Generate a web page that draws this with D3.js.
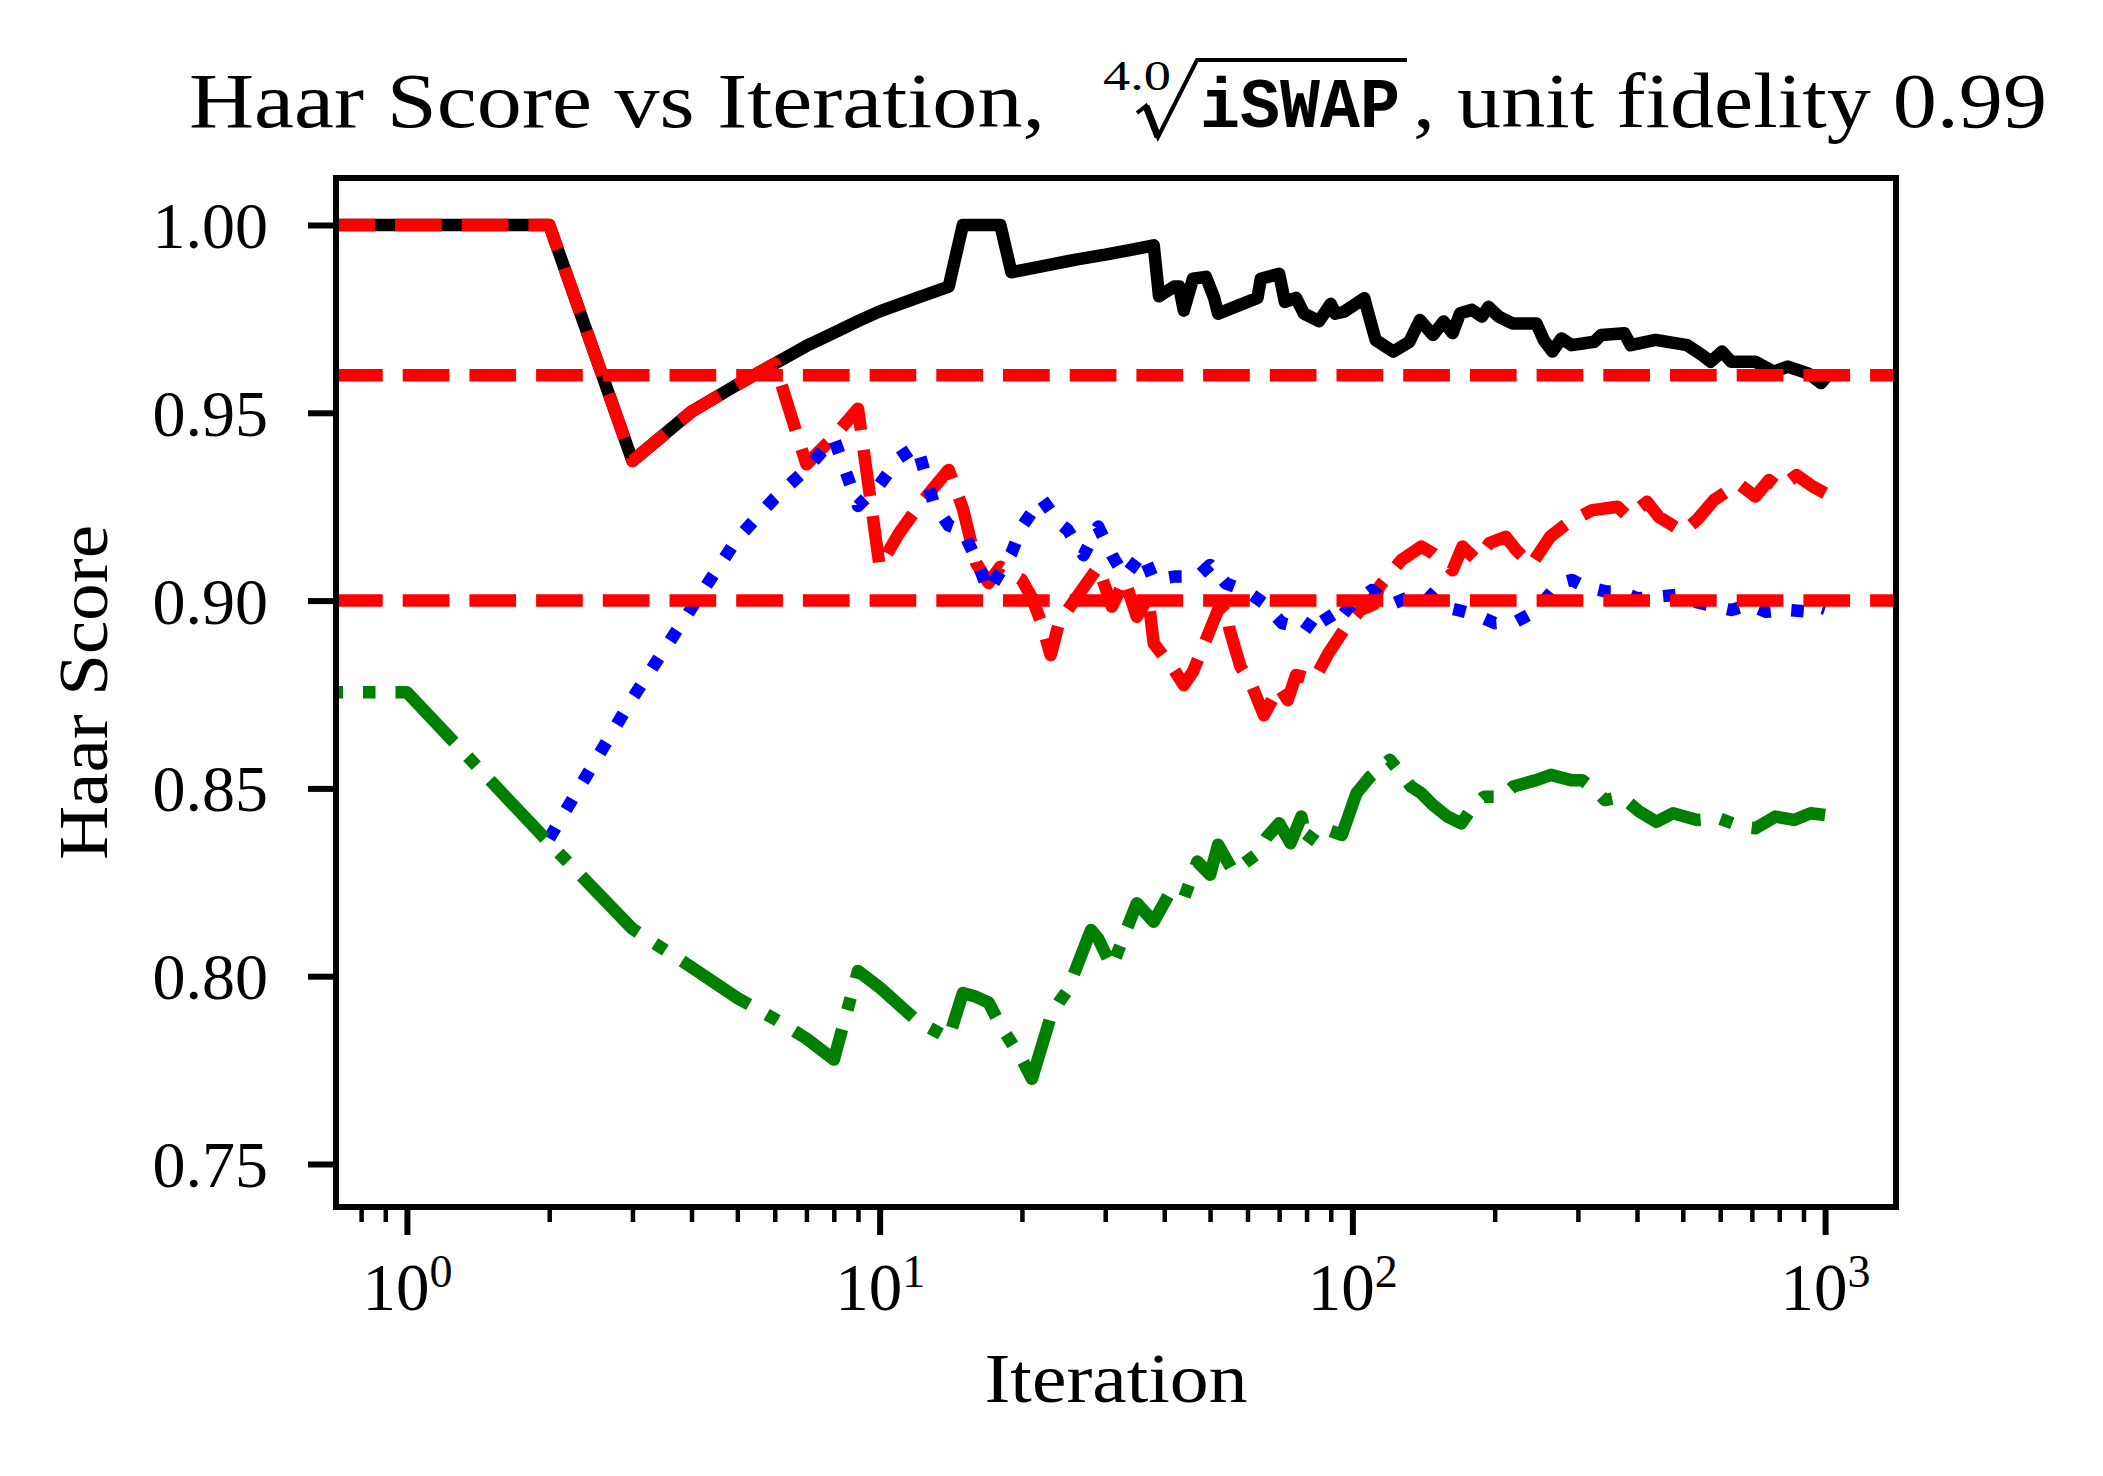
<!DOCTYPE html>
<html>
<head>
<meta charset="utf-8">
<script src="https://cdn.jsdelivr.net/npm/d3@7"></script>
<style>
  html, body { margin: 0; padding: 0; background: #fff; }
  svg { display: block; }
  text { fill: #000; }
</style>
</head>
<body>
<svg id="chart" width="2103" height="1476"></svg>
<script>
// values: [iteration, haar score]
const solidScores = [[0,1.0],[1,1.0],[2,1.0],[3,0.9372],[4,0.9503],[5,0.9575],[6,0.9631],[7,0.9678],[8,0.9713],[9,0.9744],[10,0.977],[12,0.9806],[14,0.9836],[15,1.0],[16,1.0],[17,1.0],[18,1.0],[19,0.9874],[22,0.9890],[26,0.9908],[30,0.9921],[34,0.9934],[38,0.9946],[39,0.981],[42,0.9836],[43,0.9836],[44,0.9772],[46,0.9857],[49,0.9862],[51,0.9806],[52,0.9764],[63,0.9806],[64,0.9857],[70,0.987],[72,0.9795],[76,0.9806],[79,0.9764],[85,0.9744],[90,0.979],[92,0.9764],[96,0.9769],[106,0.9805],[108,0.9766],[112,0.9694],[122,0.9663],[132,0.9689],[139,0.9747],[148,0.9707],[156,0.9743],[163,0.9712],[169,0.9765],[179,0.9774],[188,0.9756],[194,0.9782],[204,0.9756],[218,0.9738],[245,0.9738],[254,0.9694],[265,0.9663],[277,0.9698],[291,0.968],[325,0.9689],[336,0.9707],[376,0.9712],[388,0.968],[438,0.9694],[511,0.968],[549,0.9654],[573,0.9636],[605,0.9663],[633,0.9636],[712,0.9636],[779,0.9609],[834,0.9623],[920,0.9605],[980,0.9579],[1000,0.9592]];

const dashedScores = [[0,1.0],[1,1.0],[2,1.0],[3,0.9372],[4,0.9503],[5,0.9575],[6,0.9631],[7,0.9363],[8,0.9437],[9,0.9511],[10,0.909],[11,0.918],[12,0.9246],[13,0.930],[14,0.9348],[15,0.9245],[16,0.910],[17,0.9047],[18,0.909],[20,0.9055],[21,0.9007],[22,0.894],[23,0.8855],[24,0.8944],[29,0.909],[31,0.8984],[33,0.9055],[35,0.8957],[37,0.901],[38,0.8886],[42,0.8815],[44,0.8775],[46,0.8811],[52,0.8975],[54,0.8993],[55,0.8922],[58,0.8824],[61,0.878],[65,0.8695],[70,0.8771],[73,0.8735],[76,0.8802],[83,0.8789],[89,0.886],[97,0.8931],[104,0.8975],[111,0.899],[114,0.9037],[127,0.9108],[140,0.9144],[148,0.9126],[163,0.9081],[171,0.9144],[183,0.9108],[195,0.9153],[211,0.917],[222,0.9135],[239,0.9095],[262,0.917],[285,0.9206],[322,0.9241],[364,0.925],[383,0.9223],[420,0.9263],[445,0.9223],[501,0.9183],[536,0.9215],[582,0.9268],[612,0.9286],[655,0.9312],[712,0.9277],[761,0.9321],[800,0.9299],[870,0.9334],[944,0.9303],[1000,0.9286]];

const dottedScores = [[2,0.8367],[3,0.874],[4,0.898],[5,0.9165],[6,0.9273],[7,0.935],[8,0.9432],[9,0.9252],[10,0.9309],[11,0.938],[12,0.9412],[13,0.926],[14,0.920],[15,0.9186],[16,0.911],[17,0.9025],[19,0.9126],[20,0.9197],[22,0.9272],[24,0.9206],[25,0.9188],[27,0.9121],[29,0.9197],[31,0.9121],[33,0.9064],[36,0.9126],[38,0.9055],[42,0.9064],[47,0.9064],[50,0.9095],[54,0.9046],[60,0.9024],[65,0.8993],[71,0.894],[76,0.8931],[79,0.8917],[86,0.898],[91,0.8931],[98,0.898],[110,0.9028],[120,0.8988],[132,0.901],[143,0.9024],[155,0.8984],[167,0.8975],[183,0.8962],[200,0.894],[222,0.8944],[239,0.8966],[252,0.8993],[273,0.9046],[291,0.9055],[311,0.9037],[345,0.9024],[368,0.9024],[401,0.9006],[437,0.901],[485,0.9015],[513,0.9002],[546,0.8993],[633,0.8975],[689,0.8988],[751,0.897],[834,0.8975],[930,0.897],[968,0.8984],[1000,0.8978]];

const dashDotScores = [[0,0.8756],[1,0.8756],[2,0.8355],[3,0.8126],[4,0.8024],[5,0.7942],[6,0.7886],[7,0.7834],[8,0.7778],[9,0.8014],[10,0.797],[12,0.7881],[14,0.7835],[15,0.7955],[16,0.7945],[17,0.793],[18,0.787],[20,0.7778],[21,0.7727],[23,0.7892],[24,0.7932],[25,0.7963],[28,0.8123],[29,0.81],[31,0.8025],[35,0.8194],[38,0.8145],[41,0.822],[44,0.8207],[47,0.8305],[50,0.827],[52,0.835],[56,0.8278],[63,0.8327],[66,0.8371],[70,0.8407],[74,0.8354],[78,0.8425],[80,0.8354],[85,0.8398],[95,0.8376],[102,0.8487],[109,0.8531],[120,0.8576],[125,0.8549],[133,0.8505],[140,0.8487],[148,0.8456],[159,0.8425],[170,0.8407],[180,0.8451],[190,0.8478],[207,0.8478],[219,0.8505],[245,0.8522],[263,0.8536],[290,0.8522],[306,0.8522],[324,0.85],[342,0.8469],[371,0.8478],[405,0.8438],[440,0.8411],[477,0.8434],[536,0.8416],[597,0.842],[666,0.8398],[713,0.8394],[785,0.8425],[860,0.8416],[932,0.8434],[1000,0.8429]];

const thresholds = [0.96, 0.90];
const majorTicksX = [1, 10, 100, 1000];
const minorTicksX = [0.8, 0.9, 2, 3, 4, 5, 6, 7, 8, 9, 20, 30, 40, 50, 60, 70, 80, 90, 200, 300, 400, 500, 600, 700, 800, 900];
const yTicks = [0.75, 0.80, 0.85, 0.90, 0.95, 1.00];

const serif = '"Liberation Serif", "Times New Roman", serif';
const mono = '"Liberation Mono", "DejaVu Sans Mono", monospace';

const svg = d3.select("#chart");
const plotLeft = 336, plotRight = 1896, plotTop = 178, plotBottom = 1207;

const xDomain = [Math.pow(10, -0.15), Math.pow(10, 3.15)];
const x = d3.scaleLog().domain(xDomain).range([plotLeft, plotRight]);
const y = d3.scaleLinear().domain([0.73855, 1.01251]).range([plotBottom, plotTop]);

svg.append("defs").append("clipPath").attr("id", "plot-clip")
    .append("rect").attr("x", plotLeft).attr("y", plotTop)
    .attr("width", plotRight - plotLeft).attr("height", plotBottom - plotTop);

// iteration 0 sits off a log axis, so it is pinned to the left edge like matplotlib does
const line = d3.line()
    .x(d => x(Math.max(d[0], xDomain[0])))
    .y(d => y(d[1]));

const plot = svg.append("g").attr("clip-path", "url(#plot-clip)");

const series = [
    { data: solidScores, color: "#000000", dash: null, offset: 0 },
    { data: dashedScores, color: "#ff0000", dash: "46.7 20", offset: 7.7 },
    { data: dottedScores, color: "#0000ff", dash: "12.5 20.6", offset: 0 },
    { data: dashDotScores, color: "#008000", dash: "80 20 12.5 20", offset: 73 }
];

series.forEach(s => {
    plot.append("path")
        .datum(s.data)
        .attr("d", line)
        .attr("fill", "none")
        .attr("stroke", s.color)
        .attr("stroke-width", 12.5)
        .attr("stroke-linejoin", "round")
        .attr("stroke-linecap", s.dash ? "butt" : "square")
        .attr("stroke-dasharray", s.dash)
        .attr("stroke-dashoffset", s.offset);
});

plot.selectAll(".threshold").data(thresholds).enter().append("line")
    .attr("class", "threshold")
    .attr("x1", plotLeft).attr("x2", plotRight)
    .attr("y1", d => y(d)).attr("y2", d => y(d))
    .attr("stroke", "#ff0000")
    .attr("stroke-width", 12.5)
    .attr("stroke-dasharray", "46.7 20");

// axes
const xMajor = svg.append("g").attr("transform", `translate(0,${plotBottom})`)
    .call(d3.axisBottom(x).tickValues(majorTicksX).tickSize(28).tickFormat(""));
const xMinor = svg.append("g").attr("transform", `translate(0,${plotBottom})`)
    .call(d3.axisBottom(x).tickValues(minorTicksX).tickSize(15).tickFormat(""));
const yAxis = svg.append("g").attr("transform", `translate(${plotLeft},0)`)
    .call(d3.axisLeft(y).tickValues(yTicks).tickSize(28).tickPadding(40).tickFormat(d3.format(".2f")));

[xMajor, xMinor, yAxis].forEach(g => g.select(".domain").remove());
xMajor.selectAll(".tick line").attr("stroke", "#000").attr("stroke-width", 6);
yAxis.selectAll(".tick line").attr("stroke", "#000").attr("stroke-width", 6);
xMinor.selectAll(".tick line").attr("stroke", "#000").attr("stroke-width", 4.5);

yAxis.selectAll(".tick text")
    .style("font-family", serif)
    .attr("font-size", 66)
    .attr("dy", "0.34em")
    .attr("fill", "#000");

xMajor.selectAll(".tick text").remove();
xMajor.selectAll(".tick").append("text")
    .attr("y", 103)
    .attr("text-anchor", "middle")
    .style("font-family", serif)
    .attr("font-size", 67)
    .attr("fill", "#000")
    .each(function(d) {
        const t = d3.select(this);
        t.append("tspan").text("10");
        t.append("tspan").attr("dy", -23).attr("font-size", 46).text(Math.round(Math.log10(d)));
    });

// frame drawn above the lines
svg.append("rect")
    .attr("x", plotLeft).attr("y", plotTop)
    .attr("width", plotRight - plotLeft).attr("height", plotBottom - plotTop)
    .attr("fill", "none").attr("stroke", "#000").attr("stroke-width", 6);

// axis labels
svg.append("text")
    .attr("x", (plotLeft + plotRight) / 2).attr("y", 1402)
    .attr("text-anchor", "middle")
    .style("font-family", serif)
    .attr("font-size", 70)
    .attr("textLength", 263).attr("lengthAdjust", "spacingAndGlyphs")
    .text("Iteration");

svg.append("text")
    .attr("transform", `translate(107,${(plotTop + plotBottom) / 2}) rotate(-90)`)
    .attr("text-anchor", "middle")
    .style("font-family", serif)
    .attr("font-size", 70)
    .attr("textLength", 335).attr("lengthAdjust", "spacingAndGlyphs")
    .text("Haar Score");

// title: Haar Score vs Iteration, 4.0th root of iSWAP, unit fidelity 0.99
const title = svg.append("g").style("font-family", serif);
title.append("text")
    .attr("x", 189).attr("y", 127).attr("font-size", 78)
    .attr("textLength", 856).attr("lengthAdjust", "spacingAndGlyphs")
    .text("Haar Score vs Iteration,");
title.append("text")
    .attr("x", 1103).attr("y", 90).attr("font-size", 42)
    .attr("textLength", 68).attr("lengthAdjust", "spacingAndGlyphs")
    .text("4.0");
title.append("text")
    .attr("x", 1200).attr("y", 127)
    .style("font-family", mono)
    .style("font-weight", "bold")
    .attr("font-size", 70)
    .attr("textLength", 200).attr("lengthAdjust", "spacingAndGlyphs")
    .text("iSWAP");
const gx = 1200, gEnd = 1407, barY = 60;
title.append("path")
    .attr("d", `M${gx - 63},${barY + 53} L${gx - 54},${barY + 46} L${gx - 42},${barY + 77} L${gx - 3},${barY} L${gEnd},${barY}`)
    .attr("fill", "none").attr("stroke", "#000").attr("stroke-width", 4)
    .attr("stroke-linejoin", "miter");
title.append("path")
    .attr("d", `M${gx - 54},${barY + 46} L${gx - 42},${barY + 77}`)
    .attr("fill", "none").attr("stroke", "#000").attr("stroke-width", 7);
title.append("text")
    .attr("x", 1413).attr("y", 127).attr("font-size", 78)
    .attr("textLength", 634).attr("lengthAdjust", "spacingAndGlyphs")
    .text(", unit fidelity 0.99");
</script>
</body>
</html>
